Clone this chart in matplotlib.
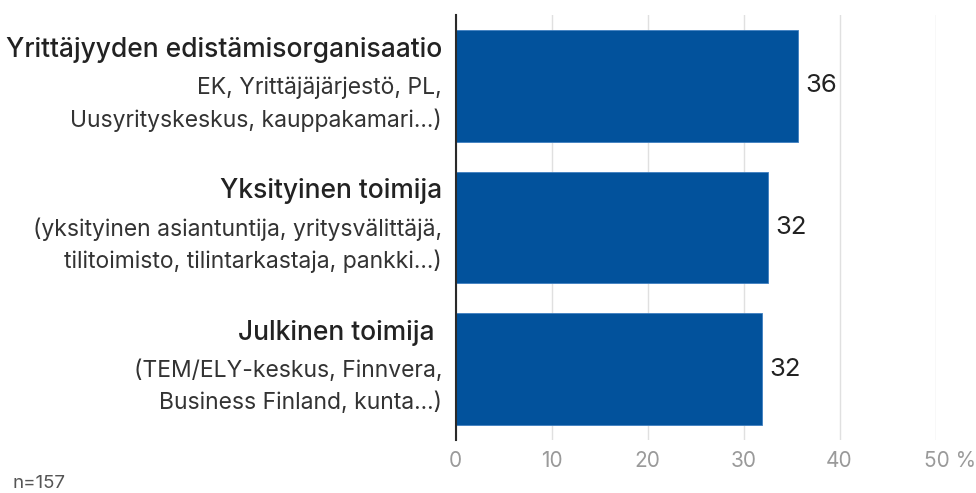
import matplotlib
matplotlib.use("Agg")
import matplotlib.pyplot as plt
from matplotlib.transforms import ScaledTranslation

# ---- data ----
categories = ["Yrittäjyyden edistämisorganisaatio",
              "Yksityinen toimija",
              "Julkinen toimija "]
subtitles = [["EK, Yrittäjäjärjestö, PL,", "Uusyrityskeskus, kauppakamari...)"],
             ["(yksityinen asiantuntija, yritysvälittäjä,", "tilitoimisto, tilintarkastaja, pankki...)"],
             ["(TEM/ELY-keskus, Finnvera,", "Business Finland, kunta...)"]]
values = [35.7, 32.5, 31.9]
value_labels = ["36", "32", "32"]
xticks = [0, 10, 20, 30, 40, 50]
xtick_labels = ["0", "10", "20", "30", "40", "50 %"]
note = "n=157"

plt.rcParams['font.family'] = ['Inter', 'DejaVu Sans']

fig = plt.figure(figsize=(9.76, 4.93), dpi=100)
ax = fig.add_axes([455.5/976, 1-440/493, (935.5-455.5)/976, (440-15)/493])

bar_color = "#02529c"
ypos = list(range(len(categories)))
ax.barh(ypos, values, height=0.79, color=bar_color, edgecolor="#3f7fc0", linewidth=0.6, zorder=3)
ax.set_ylim(2.5, -0.5)
ax.set_xlim(0, 50)

for spine in ["top", "right", "bottom"]:
    ax.spines[spine].set_visible(False)
ax.spines["left"].set_color("#2a2a2a")
ax.spines["left"].set_linewidth(1.5)
ax.spines["left"].set_zorder(4)

ax.set_xticks(xticks)
ax.set_xticklabels(xtick_labels, color="#9a9a9a", fontsize=15)
ax.tick_params(axis="x", length=0, pad=8)
ax.set_yticks([])
ax.grid(axis="x", color="#e0e0e0", linewidth=1, zorder=0)

# shift last tick label so "50" centres on the gridline
lbl = ax.get_xticklabels()[-1]
lbl.set_horizontalalignment("left")
lbl.set_transform(lbl.get_transform() + ScaledTranslation(-11/100, 0, fig.dpi_scale_trans))

for i, (cat, subs, v, vl) in enumerate(zip(categories, subtitles, values, value_labels)):
    ax.annotate(cat, xy=(0, i), xycoords=("axes fraction", "data"),
                xytext=(-13.5, 36), textcoords="offset pixels",
                ha="right", va="center", fontsize=19, fontweight="medium", color="#222222")
    for j, s in enumerate(subs):
        ax.annotate(s, xy=(0, i), xycoords=("axes fraction", "data"),
                    xytext=(-13.5, -2 - 32*j), textcoords="offset pixels",
                    ha="right", va="center", fontsize=16.5, fontweight="normal", color="#333333")
    ax.annotate(vl, xy=(v, i), xycoords="data", xytext=(7.5, 0), textcoords="offset pixels",
                ha="left", va="center", fontsize=18.5, color="#222222")

fig.text(13/976, 1-484/493, note, ha="left", va="center", fontsize=13.5, color="#555555")

fig.savefig("out.png", dpi=100)
